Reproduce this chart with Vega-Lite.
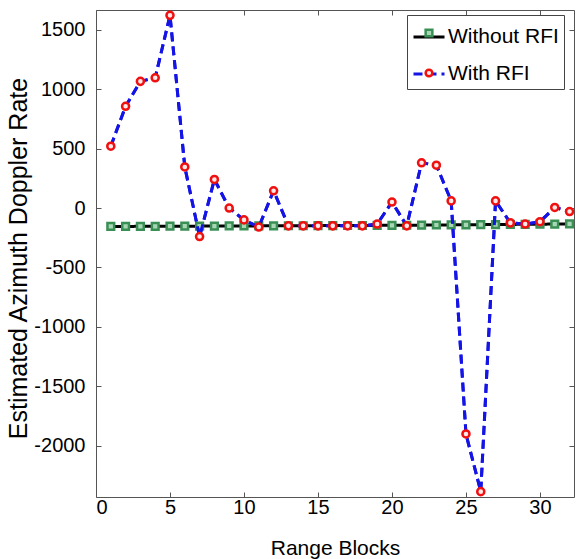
{
  "$schema": "https://vega.github.io/schema/vega-lite/v6.json",
  "width": 478,
  "height": 487,
  "autosize": "none",
  "padding": {"left": 96, "top": 10, "right": 3, "bottom": 62},
  "background": "white",
  "config": {
    "view": {"stroke": "#555", "strokeWidth": 1},
    "font": "Liberation Sans",
    "axis": {"grid": false, "domain": false, "labelColor": "black", "titleColor": "black", "tickColor": "#555", "labelFont": "Liberation Sans", "titleFont": "Liberation Sans", "titleFontWeight": "normal"}
  },
  "data": {
    "values": [
      {"block": 1, "series": "Without RFI", "rate": -155},
      {"block": 2, "series": "Without RFI", "rate": -155},
      {"block": 3, "series": "Without RFI", "rate": -154},
      {"block": 4, "series": "Without RFI", "rate": -154},
      {"block": 5, "series": "Without RFI", "rate": -153},
      {"block": 6, "series": "Without RFI", "rate": -153},
      {"block": 7, "series": "Without RFI", "rate": -152},
      {"block": 8, "series": "Without RFI", "rate": -152},
      {"block": 9, "series": "Without RFI", "rate": -151},
      {"block": 10, "series": "Without RFI", "rate": -151},
      {"block": 11, "series": "Without RFI", "rate": -150},
      {"block": 12, "series": "Without RFI", "rate": -150},
      {"block": 13, "series": "Without RFI", "rate": -149},
      {"block": 14, "series": "Without RFI", "rate": -149},
      {"block": 15, "series": "Without RFI", "rate": -148},
      {"block": 16, "series": "Without RFI", "rate": -148},
      {"block": 17, "series": "Without RFI", "rate": -147},
      {"block": 18, "series": "Without RFI", "rate": -147},
      {"block": 19, "series": "Without RFI", "rate": -146},
      {"block": 20, "series": "Without RFI", "rate": -146},
      {"block": 21, "series": "Without RFI", "rate": -145},
      {"block": 22, "series": "Without RFI", "rate": -144},
      {"block": 23, "series": "Without RFI", "rate": -143},
      {"block": 24, "series": "Without RFI", "rate": -142},
      {"block": 25, "series": "Without RFI", "rate": -141},
      {"block": 26, "series": "Without RFI", "rate": -140},
      {"block": 27, "series": "Without RFI", "rate": -139},
      {"block": 28, "series": "Without RFI", "rate": -138},
      {"block": 29, "series": "Without RFI", "rate": -137},
      {"block": 30, "series": "Without RFI", "rate": -136},
      {"block": 31, "series": "Without RFI", "rate": -135},
      {"block": 32, "series": "Without RFI", "rate": -134},
      {"block": 1, "series": "With RFI", "rate": 520},
      {"block": 2, "series": "With RFI", "rate": 855},
      {"block": 3, "series": "With RFI", "rate": 1065},
      {"block": 4, "series": "With RFI", "rate": 1095},
      {"block": 5, "series": "With RFI", "rate": 1620},
      {"block": 6, "series": "With RFI", "rate": 345},
      {"block": 7, "series": "With RFI", "rate": -240},
      {"block": 8, "series": "With RFI", "rate": 240},
      {"block": 9, "series": "With RFI", "rate": 0},
      {"block": 10, "series": "With RFI", "rate": -100},
      {"block": 11, "series": "With RFI", "rate": -160},
      {"block": 12, "series": "With RFI", "rate": 145},
      {"block": 13, "series": "With RFI", "rate": -150},
      {"block": 14, "series": "With RFI", "rate": -150},
      {"block": 15, "series": "With RFI", "rate": -150},
      {"block": 16, "series": "With RFI", "rate": -150},
      {"block": 17, "series": "With RFI", "rate": -150},
      {"block": 18, "series": "With RFI", "rate": -150},
      {"block": 19, "series": "With RFI", "rate": -135},
      {"block": 20, "series": "With RFI", "rate": 50},
      {"block": 21, "series": "With RFI", "rate": -150},
      {"block": 22, "series": "With RFI", "rate": 380},
      {"block": 23, "series": "With RFI", "rate": 360},
      {"block": 24, "series": "With RFI", "rate": 60},
      {"block": 25, "series": "With RFI", "rate": -1900},
      {"block": 26, "series": "With RFI", "rate": -2385},
      {"block": 27, "series": "With RFI", "rate": 60},
      {"block": 28, "series": "With RFI", "rate": -125},
      {"block": 29, "series": "With RFI", "rate": -135},
      {"block": 30, "series": "With RFI", "rate": -115},
      {"block": 31, "series": "With RFI", "rate": 5},
      {"block": 32, "series": "With RFI", "rate": -30}
    ]
  },
  "layer": [
    {
      "encoding": {
        "x": {"field": "block", "type": "quantitative", "scale": {"domain": [0, 32.3], "nice": false, "zero": false},
          "axis": {"values": [0, 5, 10, 15, 20, 25, 30], "title": "Range Blocks", "labelFontSize": 20, "titleFontSize": 21, "tickSize": -5, "labelPadding": 5, "titleY": 51, "titleBaseline": "middle", "titleX": 239, "labelExpr": "'' + datum.value"}},
        "y": {"field": "rate", "type": "quantitative", "scale": {"domain": [-2430, 1665], "nice": false, "zero": false},
          "axis": {"values": [-2000, -1500, -1000, -500, 0, 500, 1000, 1500], "title": "Estimated Azimuth Doppler Rate", "labelFontSize": 20, "titleFontSize": 25, "tickSize": -5, "labelPadding": 16, "titleX": -78, "titleY": 248, "titleBaseline": "middle", "titleAngle": -90, "labelExpr": "'' + datum.value"}}
      },
      "layer": [
        {
          "mark": {"type": "line", "strokeWidth": 3},
          "encoding": {
            "color": {"field": "series", "type": "nominal", "scale": {"domain": ["Without RFI", "With RFI"], "range": ["black", "#1414e6"]},
              "legend": {"title": null, "orient": "none", "legendX": 311, "legendY": 5, "fillColor": "white", "strokeColor": "#444", "padding": 5, "labelFontSize": 21, "labelFont": "Liberation Sans", "labelColor": "black", "symbolType": "stroke", "symbolSize": 961, "symbolStrokeWidth": 3, "rowPadding": 10, "labelOffset": 2}},
            "strokeDash": {"field": "series", "type": "nominal", "scale": {"domain": ["Without RFI", "With RFI"], "range": [[1, 0], [9, 5]]}, "legend": null},
            "order": {"field": "block"}
          }
        },
        {
          "transform": [{"filter": "datum.series === 'Without RFI'"}],
          "mark": {"type": "point", "shape": "square", "filled": true, "fill": "#a9d6b5", "stroke": "#3a8f55", "strokeWidth": 2.5, "size": 45, "opacity": 1}
        },
        {
          "transform": [{"filter": "datum.series === 'With RFI'"}],
          "mark": {"type": "line", "strokeWidth": 3, "color": "#1414e6", "strokeDash": [9, 5]}
        },
        {
          "transform": [{"filter": "datum.series === 'With RFI'"}],
          "mark": {"type": "point", "shape": "circle", "filled": true, "fill": "#ffe9e9", "stroke": "#f01010", "strokeWidth": 2.5, "size": 50, "opacity": 1}
        },
        {
          "transform": [{"filter": "datum.block === 0"}],
          "mark": {"type": "point", "filled": true, "opacity": 1, "size": 40, "strokeWidth": 2.5},
          "encoding": {
            "shape": {"field": "series", "type": "nominal", "scale": {"domain": ["Without RFI", "With RFI", "_"], "range": ["square", "circle", "circle"]},
              "legend": {"title": null, "values": ["Without RFI", "With RFI"], "orient": "none", "legendX": 328, "legendY": 18, "fillColor": null, "strokeColor": null, "padding": 0, "labelFontSize": 1, "labelExpr": "''", "labelOffset": 0, "symbolSize": 45, "symbolStrokeWidth": 2.5, "rowPadding": 22}},
            "fill": {"field": "series", "type": "nominal", "scale": {"domain": ["Without RFI", "With RFI", "_"], "range": ["#a9d6b5", "#ffe9e9", "#ffffff"]}, "legend": null},
            "stroke": {"field": "series", "type": "nominal", "scale": {"domain": ["Without RFI", "With RFI", "_"], "range": ["#3a8f55", "#f01010", "#ffffff"]}, "legend": null}
          }
        }
      ]
    },
    {
      "mark": {"type": "point", "opacity": 0},
      "encoding": {
        "x": {"field": "block", "type": "quantitative", "axis": {"orient": "top", "values": [0, 5, 10, 15, 20, 25, 30], "labels": false, "title": null, "tickSize": -5}},
        "y": {"field": "rate", "type": "quantitative", "axis": {"orient": "right", "values": [-2000, -1500, -1000, -500, 0, 500, 1000, 1500], "labels": false, "title": null, "tickSize": -5}}
      }
    }
  ],
  "resolve": {"axis": {"x": "independent", "y": "independent"}}
}
